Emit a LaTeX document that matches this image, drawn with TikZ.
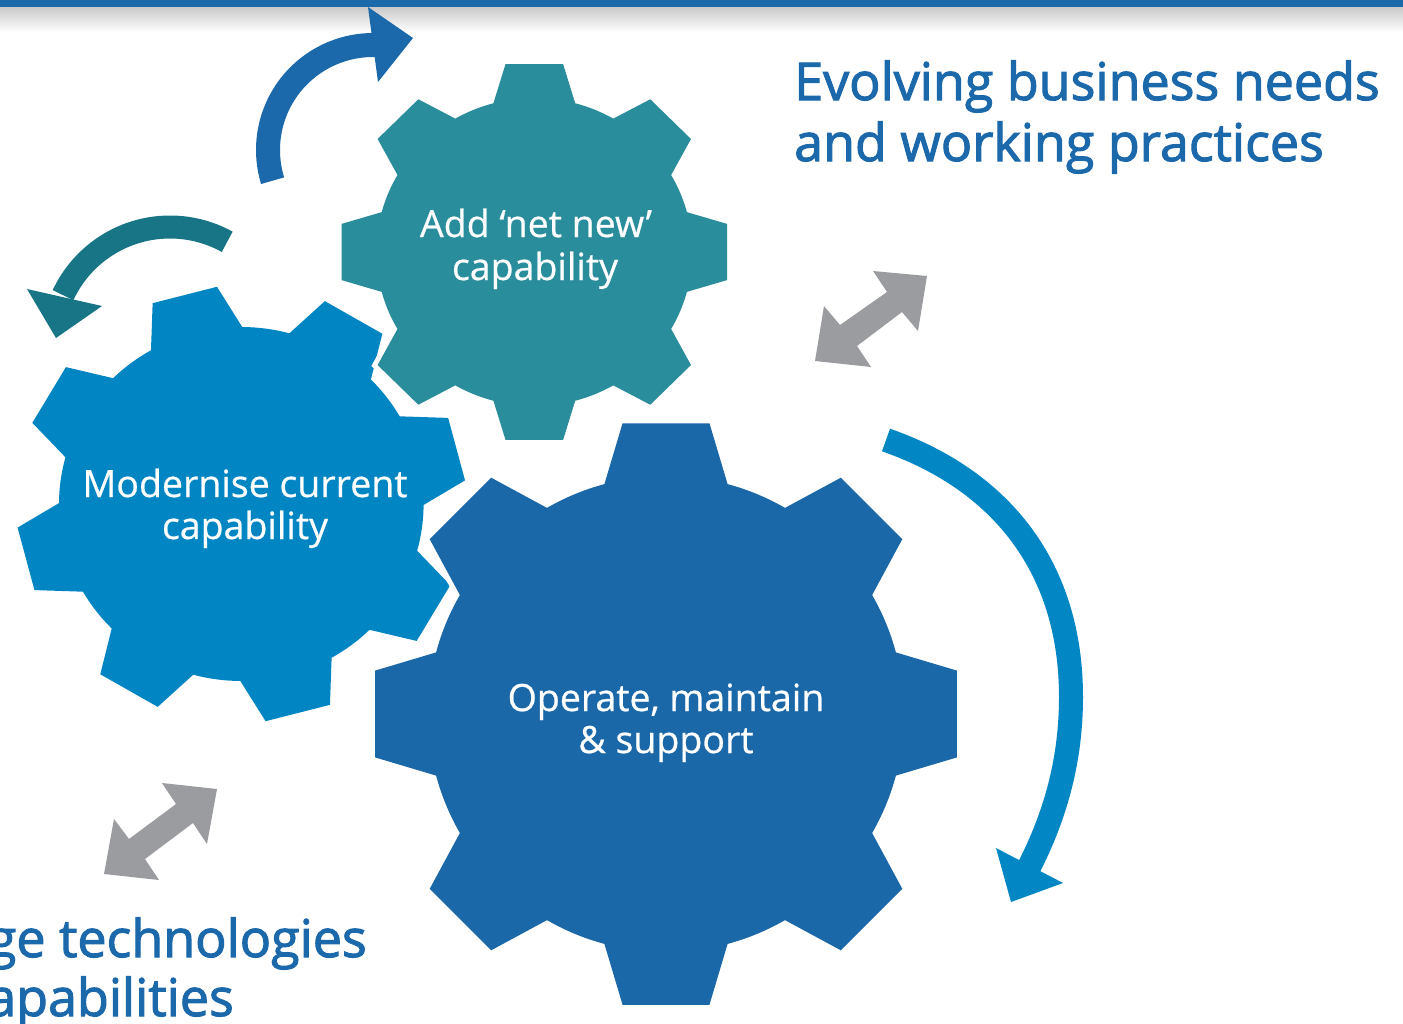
\documentclass[tikz,border=0pt]{standalone}
\usepackage{fontspec}
\setmainfont{Open Sans}
\newfontfamily\titlefont[FakeBold=2]{Open Sans}
\newfontfamily\gearfont[FakeBold=0.6]{Open Sans}
\definecolor{barblue}{HTML}{1B69AA}
\definecolor{opblue}{HTML}{1B68A9}
\definecolor{modblue}{HTML}{0285C3}
\definecolor{tealgear}{HTML}{2A8D9B}
\definecolor{tealarrow}{HTML}{177585}
\definecolor{rightarrow}{HTML}{0287C4}
\definecolor{greyarrow}{HTML}{9B9C9F}
\newcommand{\drawgear}[6]{%
  \begin{scope}[shift={(#1,#2)}]
    \fill[#6] ({#5-15}:#4) \foreach \k in {0,...,7}{
      -- ({#5+45*\k-15}:#4) -- ({#5+45*\k-8.5}:#3) -- ({#5+45*\k+8.5}:#3) -- ({#5+45*\k+15}:#4)
      arc[start angle={#5+45*\k+15}, end angle={#5+45*\k+30}, radius=#4]} -- cycle;
  \end{scope}}
\tikzset{
  gtext/.style={text=white, font=\gearfont\fontsize{37.5}{42}\selectfont, inner sep=0pt, anchor=base},
  ttext/.style={text=barblue, font=\titlefont\fontsize{52}{60}\selectfont, inner sep=0pt},
  outlined/.style={preaction={draw=white, line width=10}},
}
\begin{document}
\begin{tikzpicture}[x=1pt, y=-1pt]
\useasboundingbox (0,0) rectangle (1403,1023);
\fill[white] (0,0) rectangle (1403,1023);
% top bar with shadow
\shade[top color=black!22, bottom color=white] (0,6) rectangle (1403,32);
\fill[barblue] (0,0) rectangle (1403,6.5);

% gears
\drawgear{241.3}{504}{218.5}{177}{30.3}{modblue, xscale=1.03}
\drawgear{534.3}{252}{190}{154}{0}{tealgear, xscale=1.026, outlined}
\drawgear{666}{714}{294}{238}{0}{opblue, outlined}

% curved arrows
\draw[barblue, line width=24] (272.6,180.7) arc[start angle=163, end angle=272, radius=105];
\fill[barblue] (368,7) -- (413,38) -- (378,82) -- cycle;

\draw[tealarrow, line width=23] (227.2,241.8) arc[start angle=299, end angle=205, radius=118];
\fill[tealarrow] (27,289) -- (102,306) -- (56,338) -- cycle;

\draw[rightarrow, line width=24] (886,440) .. controls (1003.5,481) and (1071,570) .. (1071,697)
  .. controls (1071,757) and (1057,813) .. (1028,869);
\fill[rightarrow] (996,848) -- (1063,883) -- (1011,902) -- cycle;

% grey double arrows
\fill[greyarrow] (927,276) -- (918,331) -- (902,312) -- (857,346) -- (871,367) -- (815,361)
  -- (824,306) -- (840,325) -- (887,292) -- (873,271) -- cycle;
\fill[greyarrow] (217,789) -- (207,844) -- (193,823) -- (145,859) -- (159,880) -- (104,874)
  -- (114,819) -- (129,839) -- (176,804) -- (162,783) -- cycle;

% gear labels
\node[gtext] (add1) at (536,237) {Add ‘net new’};
\node[gtext] (add2) at (535,280) {capability};
\node[gtext] (mod1) at (245,497) {Modernise current};
\node[gtext] (mod2) at (245,539) {capability};
\node[gtext] (op1) at (666,711) {Operate, maintain};
\node[gtext] (op2) at (666,753) {\& support};

% titles
\node[ttext, anchor=base west] (ev1) at (794,100) {Evolving business needs};
\node[ttext, anchor=base west] (ev2) at (794,161) {and working practices};
\node[ttext, anchor=base east] (em1) at (367,957) {ge technologies};
\node[ttext, anchor=base east] (em2) at (234,1016) {apabilities};
\end{tikzpicture}
\end{document}
